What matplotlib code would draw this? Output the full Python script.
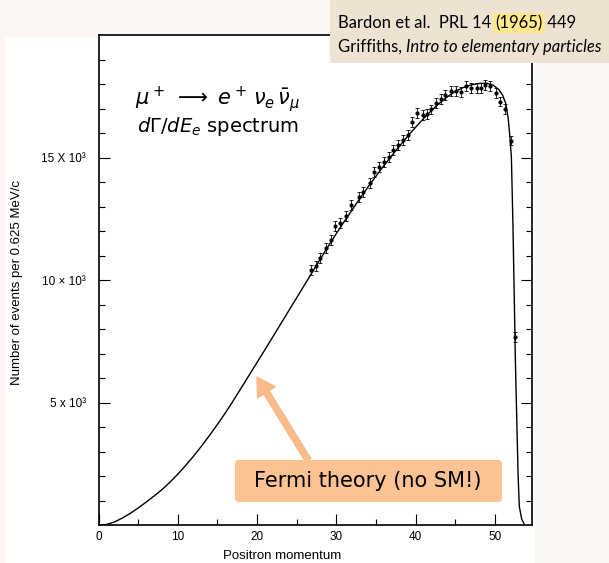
import numpy as np
import matplotlib.pyplot as plt
from matplotlib.patches import Rectangle, FancyBboxPatch
from matplotlib.transforms import IdentityTransform

W, H = 609, 563

# theory curve (momentum in MeV/c, events per bin)
curve_p = [0.2, 1, 2, 3, 4, 5, 6, 7, 8, 9, 10, 11, 12, 13, 14, 15, 16, 17, 18,
           19, 20, 21, 22, 23, 24, 25, 26, 27, 28, 29, 30, 31, 32, 33, 34, 35,
           36, 37, 38, 39, 40, 41, 42, 43, 44, 45, 46, 47, 48, 49, 49.8, 50.5,
           51.0, 51.4, 51.7, 51.9, 52.1, 52.3, 52.45, 52.6, 52.8, 52.95, 53.1,
           53.4, 53.8]
curve_n = [0, 30, 130, 290, 480, 700, 940, 1190, 1450, 1750, 2080, 2440, 2820,
           3230, 3660, 4110, 4580, 5080, 5600, 6120, 6640, 7160, 7690, 8220,
           8750, 9280, 9810, 10340, 10870, 11390, 11900, 12390, 12870, 13340,
           13800, 14240, 14670, 15080, 15480, 15870, 16240, 16590, 16920,
           17220, 17480, 17700, 17860, 17970, 18030, 18040, 17960, 17780,
           17550, 17200, 16600, 15900, 15000, 12200, 9500, 6750, 4020, 2000,
           760, 250, 0]

# measured points (Bardon et al.)
data_p = [26.8, 27.4, 28.0, 28.7, 29.3, 29.8, 30.5, 31.2, 31.9, 32.9, 33.4,
          34.2, 34.8, 35.4, 36.0, 36.6, 37.2, 37.8, 38.4, 39.0, 39.6, 40.2,
          40.9, 41.5, 42.0, 42.6, 43.2, 43.7, 44.5, 45.1, 45.8, 46.4, 47.0,
          47.7, 48.3, 48.8, 49.4, 50.1, 50.7, 51.3, 52.0, 52.5]
data_n = [10420, 10590, 10890, 11300, 11640, 12210, 12320, 12620, 13070, 13410,
          13610, 13960, 14430, 14630, 14840, 15040, 15310, 15520, 15720, 15930,
          16470, 16840, 16740, 16780, 16970, 17220, 17380, 17560, 17730, 17730,
          17670, 17930, 17830, 17830, 17830, 17970, 17930, 17630, 17290, 16980,
          15700, 7690]
data_err = [200] * len(data_p)

x_ticks = [0, 10, 20, 30, 40, 50]
y_ticks = [5000, 10000, 15000]
y_tick_labels = ["5 x 10³", "10 × 10³", "15 X 10³"]

plt.rcParams["mathtext.fontset"] = "dejavusans"

fig = plt.figure(figsize=(W / 100, H / 100), dpi=100, facecolor="#fcf7f5")
# white scanned page behind the plot
fig.patches.append(Rectangle((5 / W, 0), 530 / W, (H - 37) / H,
                             transform=fig.transFigure, facecolor="white",
                             edgecolor="none", zorder=-1))

ax = fig.add_axes([98.5 / W, (H - 525.2) / H, 433.5 / W, 490 / H])
ax.set_facecolor("white")
ax.plot(curve_p, curve_n, color="black", lw=1.0)
ax.errorbar(data_p, data_n, yerr=data_err, fmt="o", ms=2.0, color="black",
            elinewidth=0.6, capsize=1.5, capthick=0.6)

ax.set_xlim(0, 54.7)
ax.set_ylim(0, 20000)
ax.set_xticks(x_ticks)
ax.set_xticklabels([str(v) for v in x_ticks])
ax.set_xticks([5, 15, 25, 35, 45], minor=True)
ax.set_yticks(y_ticks)
ax.set_yticklabels(y_tick_labels)
ax.set_yticks([v for v in range(1000, 20000, 1000) if v % 5000], minor=True)
ax.tick_params(which="both", direction="in", right=True, top=False,
               width=0.8, labelsize=8.5, labelfontfamily="Liberation Sans")
ax.tick_params(which="major", length=8)
ax.tick_params(which="minor", length=4.5)
ax.tick_params(axis="y", which="major", pad=9)
ax.tick_params(axis="x", which="major", pad=4)
for s in ax.spines.values():
    s.set_linewidth(1.2)

fig.text(17 / W, 1 - 283 / H, "Number of events per 0.625 MeV/c", rotation=90,
         ha="center", va="center", fontsize=9.5, family="Liberation Sans")
fig.text(282 / W, 1 - 556 / H, "Positron momentum", ha="center", va="center",
         fontsize=9.5, family="Liberation Sans")

# process and spectrum labels
fig.text(218 / W, 1 - 100 / H,
         r"$\mu^+ \;\longrightarrow\; e^+\,\nu_e\,\bar{\nu}_\mu$",
         ha="center", va="center", fontsize=15)
fig.text(218 / W, 1 - 127 / H, r"$d\Gamma/dE_e$ spectrum",
         ha="center", va="center", fontsize=14)

# reference box top right
fig.patches.append(Rectangle((330 / W, 1 - 63 / H), 279 / W, 63 / H,
                             transform=fig.transFigure, facecolor="#eee2d2",
                             edgecolor="none", zorder=1))
renderer = fig.canvas.get_renderer()


def text_runs(x, y, runs, size):
    for s, style, hl in runs:
        kw = dict(fontsize=size, style=style, va="center", ha="left", zorder=3,
                  family="Lato")
        if hl:
            kw["bbox"] = dict(facecolor="#fde98b", edgecolor="none",
                              boxstyle="square,pad=0.12")
        t = fig.text(x / W, 1 - y / H, s, **kw)
        x += t.get_window_extent(renderer).width


text_runs(338, 23, [("Bardon et al.  PRL 14 ", "normal", False),
                    ("(1965)", "normal", True),
                    (" 449", "normal", False)], 12)
text_runs(338, 47, [("Griffiths, ", "normal", False),
                    ("Intro to elementary particles", "italic", False)], 12)

# Fermi theory callout
ax.annotate("", xy=(257, H - 377), xytext=(308, H - 460),
            xycoords="figure pixels", textcoords="figure pixels",
            arrowprops=dict(arrowstyle="simple,head_width=1.5,head_length=1.3,tail_width=0.45",
                            color="#f9bb89", shrinkA=0, shrinkB=0))
fig.patches.append(FancyBboxPatch((235, H - 502), 267, 42,
                                  boxstyle="round,pad=0,rounding_size=4",
                                  transform=IdentityTransform(),
                                  facecolor="#fbc393", edgecolor="none", zorder=4))
fig.text(368 / W, 1 - 481 / H, "Fermi theory (no SM!)", ha="center",
         va="center", fontsize=15, zorder=5)

fig.savefig("out.png", dpi=100, facecolor=fig.get_facecolor())
